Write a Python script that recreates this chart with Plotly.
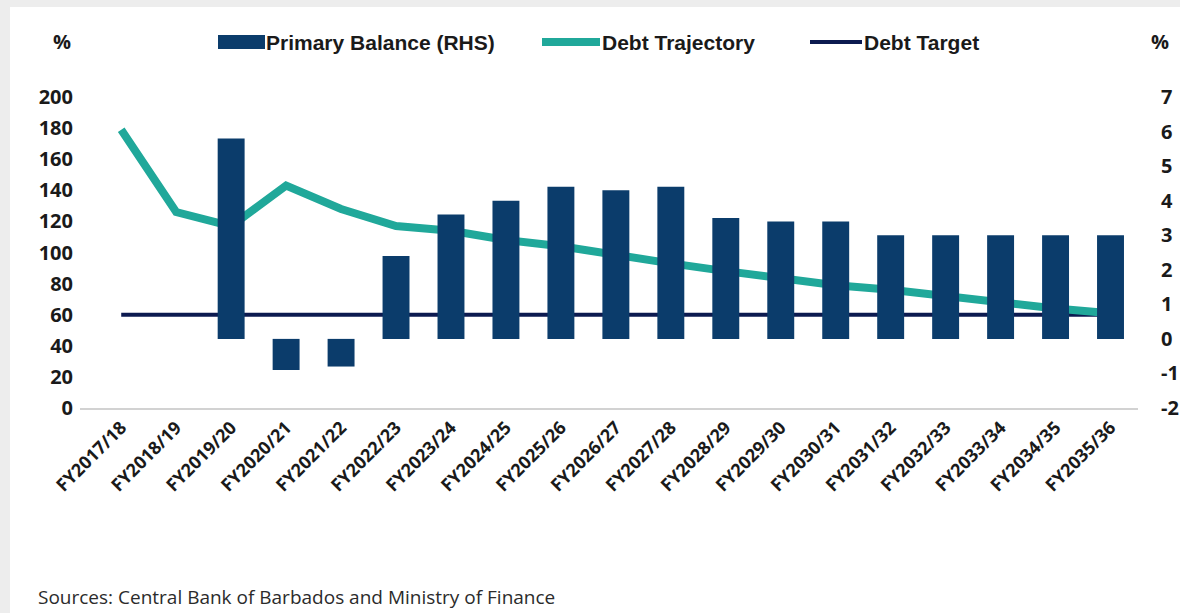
import plotly.graph_objects as go

# ---- data -------------------------------------------------------------
fiscal_years = [
    "FY2017/18", "FY2018/19", "FY2019/20", "FY2020/21", "FY2021/22",
    "FY2022/23", "FY2023/24", "FY2024/25", "FY2025/26", "FY2026/27",
    "FY2027/28", "FY2028/29", "FY2029/30", "FY2030/31", "FY2031/32",
    "FY2032/33", "FY2033/34", "FY2034/35", "FY2035/36",
]
# primary balance, % of GDP (right-hand axis)
primary_balance = [None, None, 5.8, -0.9, -0.8, 2.4, 3.6, 4.0, 4.4, 4.3,
                   4.4, 3.5, 3.4, 3.4, 3.0, 3.0, 3.0, 3.0, 3.0]
# debt-to-GDP trajectory, % (left-hand axis)
debt_trajectory = [179, 126, 117, 143, 128, 117, 114, 108, 104, 98,
                   93, 88, 83, 79, 76, 72, 67, 64, 61]
debt_target_level = 60
debt_target = [debt_target_level] * len(fiscal_years)

left_ticks = [0, 20, 40, 60, 80, 100, 120, 140, 160, 180, 200]
right_ticks = [-2, -1, 0, 1, 2, 3, 4, 5, 6, 7]
right_tick_text = [str(v) for v in right_ticks]  # plain hyphen minus

# ---- styling ----------------------------------------------------------
NAVY_BAR = "#0b3c6b"
TEAL = "#20a89a"
NAVY_LINE = "#0c1a50"
TEXT = "#1a1a1a"
FRAME = "#ededed"

W, H = 1180, 613
ML, MR, MT, MB = 80, 42, 97, 205
PW, PH = W - ML - MR, H - MT - MB


def px(x):
    """page pixel x -> paper coordinate"""
    return (x - ML) / PW


def py(y):
    """page pixel y -> paper coordinate"""
    return (H - MB - y) / PH


fig = go.Figure()

fig.add_trace(go.Bar(
    x=fiscal_years, y=primary_balance, name="Primary Balance (RHS)",
    marker=dict(color=NAVY_BAR, line=dict(width=0)), yaxis="y2",
))
fig.add_trace(go.Scatter(
    x=fiscal_years, y=debt_target, name="Debt Target", mode="lines",
    line=dict(color=NAVY_LINE, width=4),
))
fig.add_trace(go.Scatter(
    x=fiscal_years, y=debt_trajectory, name="Debt Trajectory", mode="lines",
    line=dict(color=TEAL, width=8),
))

tick_font = dict(family="Open Sans", size=20, color=TEXT, weight="bold")

fig.update_layout(
    width=W, height=H,
    margin=dict(l=ML, r=MR, t=MT, b=MB, pad=0, autoexpand=False),
    paper_bgcolor="white",
    plot_bgcolor="rgba(0,0,0,0)",
    showlegend=False,
    bargap=0.51,
    xaxis=dict(
        type="category", range=[-0.75, 18.5], automargin=False,
        tickangle=-45, tickfont=dict(family="Open Sans", size=18,
                                     color=TEXT, weight="bold"),
        showgrid=False, zeroline=False,
        showline=True, linecolor="#d2d2d2", linewidth=2,
        ticks="",
    ),
    yaxis=dict(
        range=[0, 200], tickvals=left_ticks, tickfont=tick_font,
        automargin=False,
        showgrid=False, zeroline=False, showline=False, ticks="",
        ticklabelstandoff=6,
    ),
    yaxis2=dict(
        range=[-2, 7], tickvals=right_ticks, ticktext=right_tick_text,
        tickfont=tick_font, automargin=False,
        overlaying="y", side="right",
        showgrid=False, zeroline=False, showline=False, ticks="",
        ticklabelstandoff=22,
    ),
)

shapes = [
    # light grey frame along the top and left page edges
    dict(type="rect", xref="paper", yref="paper", layer="below",
         x0=px(0), x1=px(W), y0=py(7), y1=py(0),
         fillcolor=FRAME, line=dict(width=0)),
    dict(type="rect", xref="paper", yref="paper", layer="below",
         x0=px(0), x1=px(10), y0=py(H), y1=py(0),
         fillcolor=FRAME, line=dict(width=0)),
    # legend keys
    dict(type="rect", xref="paper", yref="paper",
         x0=px(218), x1=px(265), y0=py(49), y1=py(35),
         fillcolor=NAVY_BAR, line=dict(width=0)),
    dict(type="line", xref="paper", yref="paper",
         x0=px(542), x1=px(600), y0=py(42), y1=py(42),
         line=dict(color=TEAL, width=8)),
    dict(type="line", xref="paper", yref="paper",
         x0=px(810), x1=px(862), y0=py(42), y1=py(42),
         line=dict(color=NAVY_LINE, width=4)),
]

legend_font = dict(family="Liberation Sans", size=21, color=TEXT, weight="bold")
pct_font = dict(family="Open Sans", size=20, color=TEXT, weight="bold")
annotations = [
    dict(text="Primary Balance (RHS)", x=px(264), y=py(42), xanchor="left",
         yanchor="middle", font=legend_font),
    dict(text="Debt Trajectory", x=px(600), y=py(42), xanchor="left",
         yanchor="middle", font=legend_font),
    dict(text="Debt Target", x=px(862), y=py(42), xanchor="left",
         yanchor="middle", font=legend_font),
    dict(text="%", x=px(62), y=py(41), xanchor="center", yanchor="middle",
         font=pct_font),
    dict(text="%", x=px(1160), y=py(41), xanchor="center", yanchor="middle",
         font=pct_font),
    dict(text="Sources: Central Bank of Barbados and Ministry of Finance",
         x=px(36), y=py(597), xanchor="left", yanchor="middle",
         font=dict(family="Open Sans", size=19, color="#2b2b2b")),
]
for a in annotations:
    a.update(xref="paper", yref="paper", showarrow=False)

fig.update_layout(shapes=shapes, annotations=annotations)

# keep the page free of scrollbars around the fixed-size figure
fig.write_html(
    "out.html",
    post_script="document.documentElement.style.overflow='hidden';"
                "document.body.style.margin='0';"
                "document.body.style.overflow='hidden';",
)
